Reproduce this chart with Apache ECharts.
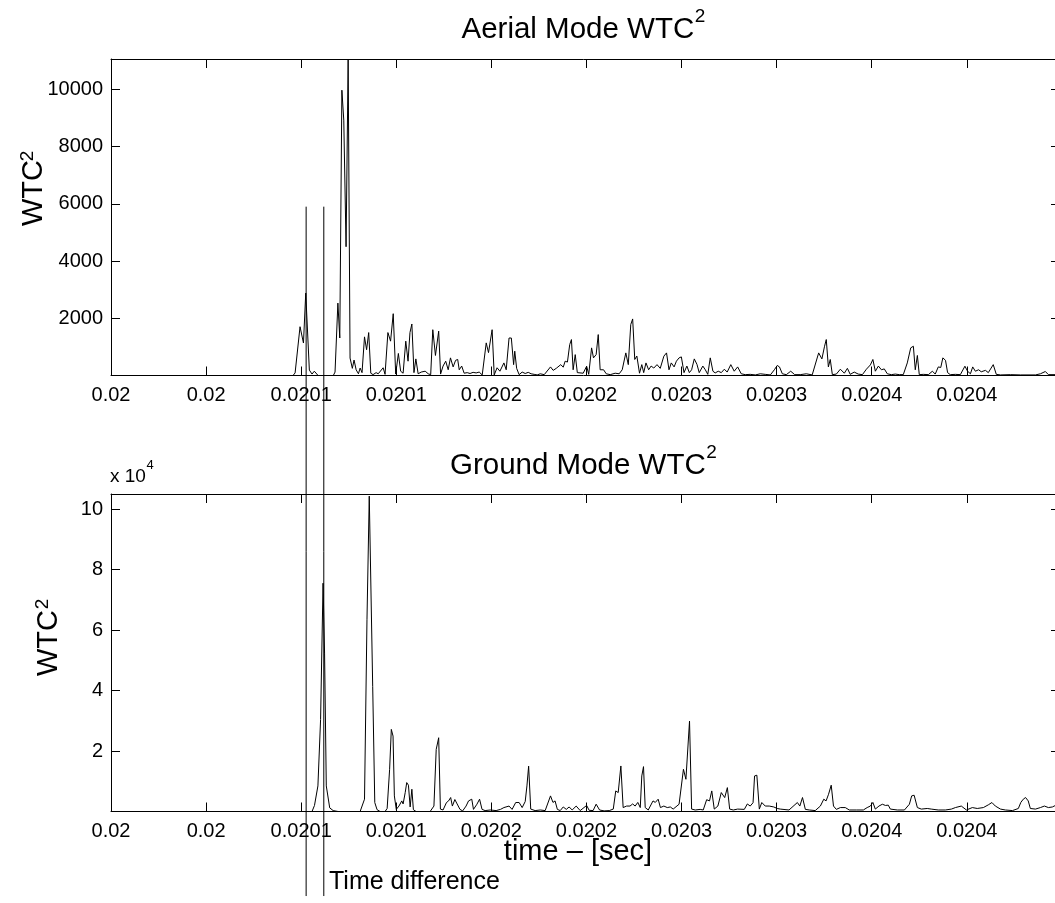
<!DOCTYPE html>
<html>
<head>
<meta charset="utf-8">
<script src="https://cdn.jsdelivr.net/npm/echarts@6/dist/echarts.min.js"></script>
<style>
html,body{margin:0;padding:0;background:#fff;}
#chart{width:1055px;height:903px;}
</style>
</head>
<body>
<div id="chart"></div>
<script>
// ---- DATA ----
const T0 = 0.02;                 // seconds, time origin of the offsets below
const US = 1e-6;                 // offsets are in microseconds
const xTickLabels = ['0.02','0.02','0.0201','0.0201','0.0202','0.0202','0.0203','0.0203','0.0204','0.0204'];
const xTickStep = 0.00005;
const aerialTicks = [2000, 4000, 6000, 8000, 10000];
const groundTickLabels = ['2','4','6','8','10'];   // x 10^4
const timeDiffMarksUs = [102.6, 111.9];            // vertical markers
const timeDiffTop = 5900;                           // marker top, aerial units
const timeDiffBottom = -18190;                      // marker bottom, aerial units (below the plots)

// [time offset in µs, WTC^2]
const aerialPoints = [
[0,0],[95.7,0],[96.8,90],[99.4,1705],[101.2,1135],[102.4,2880],[104.3,190],[105.7,50],[106.9,150],[108.9,0],
[116.9,0],[117.8,120],[119.3,2530],[120.3,1310],[121.4,9970],[122.4,8925],[123.6,4500],[124.7,11050],[125.7,610],[126.9,250],
[127.8,540],[128.9,200],[130.1,60],[131.0,260],[132.0,100],[133.3,1350],[134.4,900],[135.5,1500],[136.6,80],[137.8,30],
[139.4,100],[140.5,60],[141.5,20],[143.1,270],[144.1,40],[145.6,1500],[147.0,1200],[148.4,2160],[149.7,50],[151.1,770],
[152.3,150],[153.6,80],[155.0,1200],[156.2,500],[157.2,1500],[158.2,1800],[159.3,100],[160.3,580],[161.5,60],[163.1,120],
[165.2,150],[166.8,60],[168.1,30],[169.2,1600],[170.6,700],[172.3,1550],[173.3,50],[174.6,330],[176.0,500],[177.3,200],
[178.5,616],[179.9,300],[181.2,530],[182.3,560],[183.1,200],[184.4,330],[185.7,80],[187.3,100],[188.8,70],[190.4,110],
[192.0,90],[193.6,120],[195.2,20],[197.3,1140],[198.5,800],[200.4,1600],[201.5,20],[203.0,270],[204.5,150],[206.6,440],
[207.8,200],[209.3,1310],[210.5,1310],[211.7,380],[212.3,850],[213.3,250],[214.6,30],[216.2,120],[217.8,70],[219.4,110],
[220.9,60],[222.5,40],[224.1,20],[225.7,60],[227.8,30],[231.1,300],[232.5,180],[234.1,250],[236.5,380],[237.8,290],
[238.8,500],[240.0,470],[241.2,1080],[242.1,1256],[243.0,200],[244.1,730],[245.2,100],[246.2,50],[248.3,80],[250.1,325],
[251.2,40],[252.7,965],[253.7,616],[255.1,730],[256.2,1430],[257.2,200],[259.0,200],[260.4,60],[262.5,30],[265.1,80],
[267.2,60],[268.8,200],[270.7,790],[272.0,380],[273.3,1780],[274.3,1977],[275.4,560],[276.5,680],[277.9,80],[279.1,380],
[280.1,100],[281.3,440],[282.7,200],[284.0,330],[285.4,260],[287.1,380],[288.8,250],[290.7,675],[292.1,790],[293.4,200],
[294.6,440],[296.1,300],[297.3,500],[298.7,616],[299.9,650],[301.3,100],[302.8,330],[304.1,100],[305.3,200],[306.7,580],
[308.1,390],[309.3,100],[311.2,330],[312.5,200],[313.8,40],[315.1,616],[316.5,150],[317.7,90],[319.3,150],[320.9,100],
[322.5,220],[324.0,120],[325.9,380],[327.7,150],[329.5,300],[331.4,60],[333.5,30],[336.1,40],[338.8,20],[341.4,60],
[344.0,40],[346.7,20],[348.8,200],[350.3,350],[351.5,300],[353.0,60],[355.1,30],[357.4,150],[359.5,30],[362.4,30],
[365.6,60],[368.7,20],[372.1,790],[373.8,580],[375.2,1023],[376.1,1256],[377.2,300],[378.2,560],[379.3,30],[381.4,50],
[383.5,220],[385.6,80],[387.2,250],[388.7,40],[390.8,120],[392.9,50],[395.1,30],[397.2,220],[399.3,370],[400.6,560],
[401.9,150],[403.5,330],[405.1,200],[406.6,230],[408.2,60],[410.3,30],[412.4,50],[414.5,30],[416.6,30],[418.7,440],
[420.5,965],[421.9,1023],[422.9,200],[424.0,700],[425.0,30],[427.1,40],[429.8,30],[431.9,150],[433.4,50],[435.0,300],
[436.3,280],[437.4,616],[438.8,530],[439.9,100],[441.3,30],[444.0,40],[446.6,30],[449.0,325],[450.4,150],[451.9,60],
[453.1,300],[454.5,150],[456.2,200],[457.6,130],[459.8,180],[461.3,100],[463.9,380],[465.5,40],[467.7,20],[472.9,30],
[478.2,20],[486.1,20],[488.7,60],[491.3,140],[492.9,30],[496.6,30],[499.0,20]
];

const groundPoints = [
[0,0],[105.7,0],[107.0,2000],[108.8,8460],[110.2,30440],[111.5,75500],[112.3,52400],[113.2,8460],[115.0,1200],[116.8,300],
[119.4,0],[131.0,0],[132.0,500],[133.3,4070],[134.6,63400],[135.8,104300],[136.7,104300],[137.6,41400],[138.7,2970],[139.9,600],
[141.5,0],[144.1,0],[145.2,1000],[146.5,13960],[147.4,27150],[148.3,24950],[149.0,5160],[150.0,700],[151.4,1800],[152.9,3500],
[153.6,2500],[154.7,6260],[155.5,9560],[156.4,8700],[157.3,1500],[158.2,7360],[159.0,600],[160.4,0],[167.8,0],[168.6,500],
[169.8,1800],[171.0,20550],[172.3,24400],[173.2,800],[174.6,500],[176.4,2970],[177.5,3500],[178.6,4620],[179.5,1800],[180.8,3960],
[182.0,2500],[183.5,700],[184.9,200],[186.7,1800],[188.0,3500],[189.7,4070],[190.6,700],[192.4,2400],[193.8,4070],[195.1,700],
[196.7,300],[199.4,500],[202.5,300],[204.8,700],[206.6,1300],[209.3,1800],[210.9,700],[212.8,2970],[214.6,2970],[216.2,1300],
[217.8,3300],[218.7,8460],[219.6,15000],[220.7,800],[223.0,300],[225.7,500],[228.3,300],[231.1,5160],[232.4,3000],[233.5,3500],
[234.7,700],[236.2,300],[237.8,1500],[239.4,700],[240.9,1500],[242.5,500],[244.6,1800],[246.7,300],[250.1,2000],[251.4,400],
[253.5,300],[255.1,2420],[256.9,500],[259.3,200],[262.0,300],[264.1,800],[265.4,6800],[266.7,6260],[268.1,15060],[269.3,1300],
[271.1,1800],[272.9,1800],[274.3,2500],[275.6,1800],[277.0,3000],[278.3,1300],[279.1,11760],[280.0,14840],[280.9,1300],[282.5,500],
[285.0,3500],[286.2,3000],[287.7,4070],[288.9,1300],[290.7,1800],[292.5,1300],[294.1,1500],[295.6,800],[298.7,2400],[301.0,13960],
[302.3,10660],[304.2,29900],[305.3,800],[307.2,500],[309.8,700],[311.4,500],[313.2,3900],[314.7,3500],[315.9,6810],[317.2,800],
[319.1,1800],[320.9,6260],[322.7,4600],[324.1,7900],[325.3,800],[327.2,500],[329.5,800],[333.0,700],[334.6,2500],[336.1,1800],
[337.6,2900],[338.4,11760],[339.6,12000],[340.9,800],[342.2,2970],[344.0,1800],[346.1,1800],[348.5,1500],[350.3,1000],[351.9,800],
[356.5,500],[360.9,2970],[362.2,1800],[363.6,4620],[365.1,700],[367.2,500],[370.3,300],[373.0,1800],[374.8,4070],[376.0,3500],
[377.3,5700],[378.7,8700],[379.9,1800],[381.4,700],[383.5,1300],[386.1,1300],[388.2,500],[391.9,500],[395.6,500],[397.6,1300],
[399.3,1800],[400.6,3000],[401.9,800],[403.8,1800],[405.6,2400],[407.2,2000],[408.7,2100],[409.8,800],[413.5,500],[417.2,500],
[419.8,2400],[421.0,5160],[422.3,5380],[424.0,1300],[426.1,800],[429.2,1000],[431.3,800],[435.0,500],[438.7,500],[441.9,800],
[444.0,1300],[447.1,1800],[449.8,500],[452.9,1300],[455.5,1000],[458.7,1300],[461.3,2200],[463.2,2970],[465.0,1800],[467.7,800],
[470.3,500],[474.0,300],[477.1,1000],[478.4,3000],[479.7,4070],[480.9,4620],[482.3,3500],[483.4,1000],[486.1,800],[488.7,1300],
[490.8,1800],[492.9,1300],[495.0,1500],[496.6,2000],[499.0,1000]
];

// ---- CHART ----
const FONT = '"Liberation Sans", Arial, Helvetica, sans-serif';
const xMin = 0.02, xMax = 0.020499;
const toSec = p => [T0 + p[0] * US, p[1]];

function xAxisCfg(grid, pos) {
  return {
    type: 'value', gridIndex: grid, position: pos, min: xMin, max: xMax, interval: xTickStep,
    axisLine: { show: true, onZero: false, lineStyle: { color: '#000', width: 1 } },
    axisTick: { show: true, inside: true, length: 9, lineStyle: { color: '#000' } },
    splitLine: { show: false },
    axisLabel: {
      show: pos === 'bottom', color: '#000', fontFamily: FONT, fontSize: 20, margin: 10,
      formatter: v => { const i = Math.round((v - T0) / xTickStep); return xTickLabels[i] || ''; }
    }
  };
}
function yAxisCfg(grid, pos, max, interval, fmt) {
  return {
    type: 'value', gridIndex: grid, position: pos, min: 0, max: max, interval: interval,
    axisLine: { show: pos === 'left', onZero: false, lineStyle: { color: '#000', width: 1 } },
    axisTick: { show: true, inside: true, length: 9, lineStyle: { color: '#000' } },
    splitLine: { show: false },
    axisLabel: { show: pos === 'left', color: '#000', fontFamily: FONT, fontSize: 20, margin: 8, formatter: fmt }
  };
}

const aerialMax = 11060, groundMax = 105000;
const aerialFmt = v => aerialTicks.indexOf(v) >= 0 ? String(v) : '';
const groundFmt = v => { const i = Math.round(v / 20000) - 1; return (i >= 0 && v > 0) ? (groundTickLabels[i] || '') : ''; };

const measureCtx = document.createElement('canvas').getContext('2d');
function textWidth(text, size) { measureCtx.font = size + 'px ' + FONT; return measureCtx.measureText(text).width; }

function txt(x, y, text, size, align, rotation) {
  const el = {
    type: 'text', x: x, y: y, silent: true,
    style: { text: text, font: size + 'px ' + FONT, fill: '#000', textVerticalAlign: 'middle', textAlign: align || 'left' }
  };
  if (rotation !== undefined) el.rotation = rotation;
  return el;
}
// horizontal label with a superscript following the main text
function supLabel(x, y, main, sup, size, supSize, supY) {
  const w = textWidth(main, size);
  return [txt(x, y, main, size), txt(x + w + 0.5, supY, sup, supSize)];
}

const option = {
  animation: false,
  backgroundColor: '#fff',
  grid: [
    { left: 111, top: 59, width: 949, height: 316.5, outerBoundsMode: 'none', containLabel: false },
    { left: 111, top: 494, width: 949, height: 317.5, outerBoundsMode: 'none', containLabel: false }
  ],
  xAxis: [ xAxisCfg(0, 'bottom'), xAxisCfg(0, 'top'), xAxisCfg(1, 'bottom'), xAxisCfg(1, 'top') ],
  yAxis: [
    yAxisCfg(0, 'left', aerialMax, 2000, aerialFmt), yAxisCfg(0, 'right', aerialMax, 2000, aerialFmt),
    yAxisCfg(1, 'left', groundMax, 20000, groundFmt), yAxisCfg(1, 'right', groundMax, 20000, groundFmt)
  ],
  series: [
    { type: 'line', xAxisIndex: 0, yAxisIndex: 0, data: aerialPoints.map(toSec), showSymbol: false,
      lineStyle: { color: '#000', width: 1 }, silent: true },
    { type: 'line', xAxisIndex: 2, yAxisIndex: 2, data: groundPoints.map(toSec), showSymbol: false,
      lineStyle: { color: '#000', width: 1 }, silent: true }
  ].concat(timeDiffMarksUs.map(t => ({
      type: 'line', xAxisIndex: 0, yAxisIndex: 0, clip: false, showSymbol: false, silent: true, z: 5,
      data: [[T0 + t * US, timeDiffTop], [T0 + t * US, timeDiffBottom]],
      lineStyle: { color: '#000', width: 1 }
  }))),
  graphic: [].concat(
    supLabel(461.5, 30, 'Aerial Mode WTC', '2', 29.5, 19, 17),
    supLabel(450, 466, 'Ground Mode WTC', '2', 29.5, 19, 453),
    [
      txt(34, 193, 'WTC', 29, 'center', Math.PI / 2),
      txt(28, 156, '2', 19, 'center', Math.PI / 2),
      txt(49, 643, 'WTC', 29, 'center', Math.PI / 2),
      txt(43, 604, '2', 19, 'center', Math.PI / 2)
    ],
    supLabel(110, 477, 'x 10', '4', 19, 13, 465),
    [
      txt(578, 852, 'time \u2013 [sec]', 29, 'center'),
      txt(329, 882, 'Time difference', 25)
    ]
  )
};

const chart = echarts.init(document.getElementById('chart'), null, { renderer: 'canvas' });
chart.setOption(option);
</script>
</body>
</html>
